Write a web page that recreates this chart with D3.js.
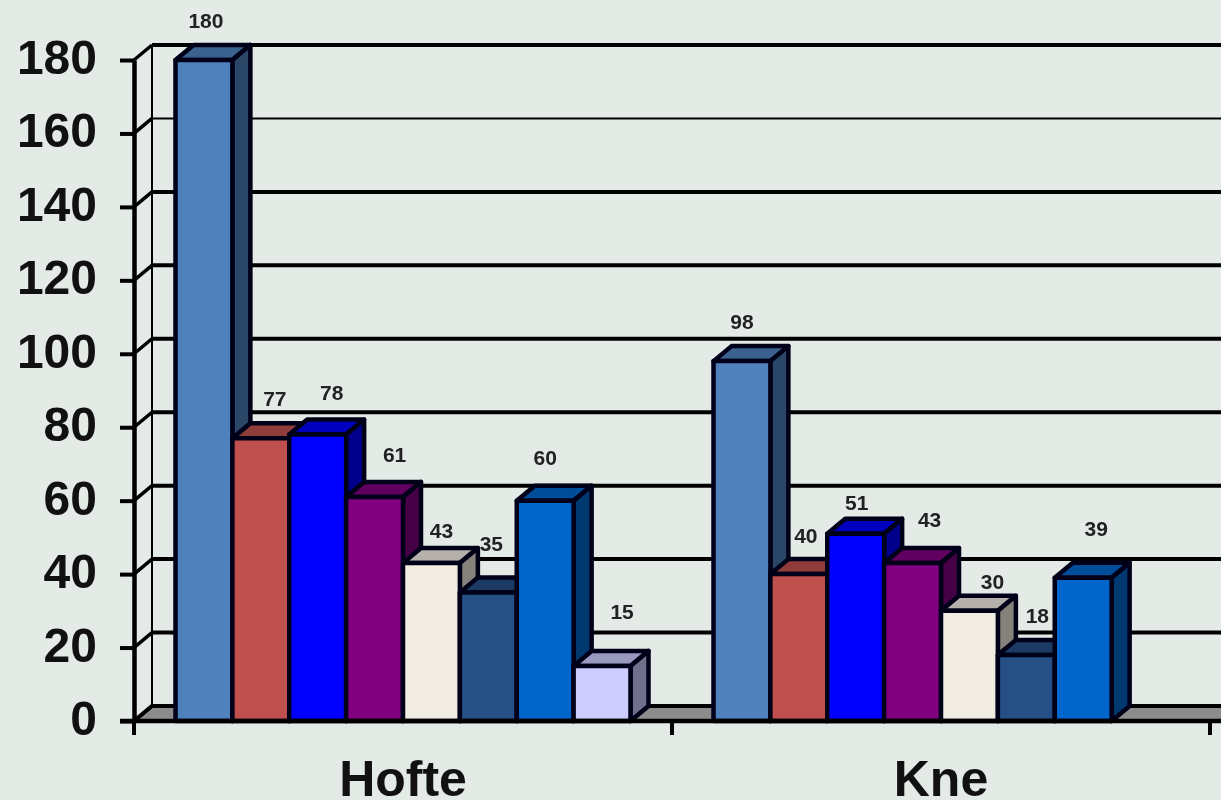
<!DOCTYPE html>
<html>
<head>
<meta charset="utf-8">
<script src="https://cdn.jsdelivr.net/npm/d3@7"></script>
<style>
    html, body { margin: 0; padding: 0; background: #e4ebe6; overflow: hidden; }
    svg { display: block; filter: blur(0.7px); }
    text { font-family: "Liberation Sans", Arial, sans-serif; font-weight: bold; }
</style>
</head>
<body>
<div id="chart-area"></div>
<script>
const categories = ["Hofte", "Kne"];
const hofte = [180, 77, 78, 61, 43, 35, 60, 15];
const kne = [98, 40, 51, 43, 30, 18, 39];
const yTicks = [0, 20, 40, 60, 80, 100, 120, 140, 160, 180];
const colors = ["#4f81bd", "#c0504d", "#0000ff", "#800080", "#f1ece2", "#254f85", "#0066cc", "#ccccff"];

// the labels were moved by hand in the original, so they are not centred on the bars
const hofteNudge = [[2, -40], [14, -40], [14, -42], [20, -42], [10, -33], [3, -49], [0, -43], [20, -54]];
const kneNudge = [[0, -40], [7, -39], [1, -31], [17, -44], [23, -29], [11, -39], [13, -49]];

const width = 1221, height = 800;
const depthX = 18, depthY = 15;
const floorY = 721;

const svg = d3.select("#chart-area")
    .append("svg")
    .attr("width", width)
    .attr("height", height);

svg.append("rect")
    .attr("width", width)
    .attr("height", height)
    .attr("fill", "#e4ebe6");

const y = d3.scaleLinear()
    .domain([0, 180])
    .range([floorY, 60]);

const x = d3.scaleBand()
    .domain(categories)
    .range([134, 1210]);

const barX = d3.scaleBand()
    .domain(d3.range(8))
    .range([41.5, x.bandwidth() - 41.5]);

const walls = svg.append("g");

// back wall grid lines
walls.selectAll("line.grid")
    .data(yTicks.filter(d => d > 0))
    .enter().append("line")
    .attr("class", "grid")
    .attr("x1", 134 + depthX)
    .attr("x2", width)
    .attr("y1", d => y(d) - depthY)
    .attr("y2", d => y(d) - depthY)
    .attr("stroke", "#000")
    .attr("stroke-width", d => d === 160 ? 2 : 4);

// floor
walls.append("polygon")
    .attr("points", [
        [134, floorY], [134 + depthX, floorY - depthY],
        [width + depthX, floorY - depthY], [width, floorY]
    ].join(" "))
    .attr("fill", "#8c8c8c")
    .attr("stroke", "#000")
    .attr("stroke-width", 4);

// left wall
walls.append("line")
    .attr("x1", 134 + depthX).attr("x2", 134 + depthX)
    .attr("y1", y(180) - depthY).attr("y2", floorY - depthY)
    .attr("stroke", "#000")
    .attr("stroke-width", 2);

walls.selectAll("line.diag")
    .data(yTicks)
    .enter().append("line")
    .attr("class", "diag")
    .attr("x1", 134)
    .attr("x2", 134 + depthX)
    .attr("y1", d => y(d))
    .attr("y2", d => y(d) - depthY)
    .attr("stroke", "#000")
    .attr("stroke-width", 3.5);

function shade(c, k) {
    const rgb = d3.rgb(c);
    return d3.rgb(rgb.r * k, rgb.g * k, rgb.b * k).formatHex();
}

function drawGroup(name, values, nudge) {
    const g = svg.append("g")
        .attr("transform", "translate(" + x(name) + ",0)");

    const bars = g.selectAll("g.bar")
        .data(values)
        .enter().append("g")
        .attr("class", "bar");

    bars.append("polygon")
        .attr("points", (d, i) => {
            const x0 = barX(i), x1 = x0 + barX.bandwidth(), t = y(d);
            return [[x0, t], [x0 + depthX, t - depthY], [x1 + depthX, t - depthY], [x1, t]].join(" ");
        })
        .attr("fill", (d, i) => shade(colors[i], 0.75));

    bars.append("polygon")
        .attr("points", (d, i) => {
            const x1 = barX(i) + barX.bandwidth(), t = y(d);
            return [[x1, t], [x1 + depthX, t - depthY], [x1 + depthX, floorY - depthY], [x1, floorY]].join(" ");
        })
        .attr("fill", (d, i) => shade(colors[i], 0.55));

    bars.append("rect")
        .attr("x", (d, i) => barX(i))
        .attr("y", d => y(d))
        .attr("width", barX.bandwidth())
        .attr("height", d => floorY - y(d))
        .attr("fill", (d, i) => colors[i]);

    bars.selectAll("polygon, rect")
        .attr("stroke", "#000018")
        .attr("stroke-width", 4.5)
        .attr("stroke-linejoin", "round");

    // second pass so no bar covers a label
    g.selectAll("text.value")
        .data(values)
        .enter().append("text")
        .attr("class", "value")
        .attr("text-anchor", "middle")
        .attr("dominant-baseline", "central")
        .attr("font-size", 21)
        .attr("fill", "#222")
        .attr("x", (d, i) => barX(i) + barX.bandwidth() / 2 + nudge[i][0])
        .attr("y", (d, i) => y(d) + nudge[i][1])
        .text(d => d);
}

drawGroup("Hofte", hofte, hofteNudge);
drawGroup("Kne", kne, kneNudge);

// axes
const yAxis = svg.append("g")
    .attr("transform", "translate(134,0)")
    .call(d3.axisLeft(y).tickValues(yTicks).tickSize(14).tickSizeOuter(0));

yAxis.select(".domain").attr("stroke", "#000").attr("stroke-width", 4.5);
yAxis.selectAll(".tick line").attr("stroke", "#000").attr("stroke-width", 4);
yAxis.selectAll(".tick text")
    .attr("x", -37)
    .attr("y", -3)
    .attr("dy", null)
    .attr("dominant-baseline", "central")
    .attr("text-anchor", "end")
    .attr("font-size", 48)
    .attr("font-family", null)
    .attr("fill", "#111");

const xAxis = svg.append("g")
    .attr("transform", "translate(0," + floorY + ")")
    .call(d3.axisBottom(x).tickSize(0).tickSizeOuter(0));

xAxis.select(".domain").remove();
xAxis.selectAll(".tick text")
    .attr("y", 75)
    .attr("dy", null)
    .attr("text-anchor", "middle")
    .attr("font-size", 50)
    .attr("font-family", null)
    .attr("fill", "#111");

svg.append("line")
    .attr("x1", 120).attr("x2", width)
    .attr("y1", floorY).attr("y2", floorY)
    .attr("stroke", "#000")
    .attr("stroke-width", 4.5);

svg.selectAll("line.xtick")
    .data([x("Hofte"), x("Kne"), x("Kne") + x.bandwidth()])
    .enter().append("line")
    .attr("class", "xtick")
    .attr("x1", d => d).attr("x2", d => d)
    .attr("y1", floorY).attr("y2", floorY + 14)
    .attr("stroke", "#000")
    .attr("stroke-width", 4);
</script>
</body>
</html>
